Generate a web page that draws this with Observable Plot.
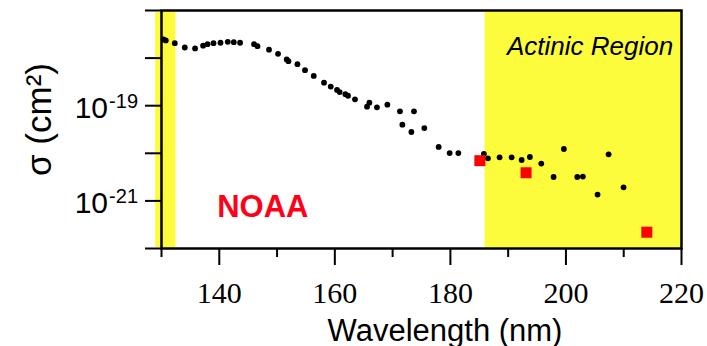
<!DOCTYPE html>
<html>
<head>
<meta charset="utf-8">
<script src="https://cdn.jsdelivr.net/npm/d3@7"></script>
<script src="https://cdn.jsdelivr.net/npm/@observablehq/plot@0.6"></script>
<style>
  html, body { margin: 0; padding: 0; background: #fff; }
  svg { display: block; }
</style>
</head>
<body>
<div id="chart"></div>
<script>
// Measured cross-section (black dots)
const wavelength = [130.35, 130.74, 132.30, 134.03, 135.81, 137.20, 137.96, 139.0, 140.21, 141.47,
  142.51, 143.60, 146.02, 146.61, 148.61, 150.17, 151.67, 151.97, 153.53, 154.84,
  156.35, 158.13, 159.29, 160.38, 160.84, 161.83, 162.28, 163.49, 165.57, 165.98,
  167.29, 169.09, 171.27, 171.69, 173.25, 173.70, 175.49, 177.97, 179.87, 181.38,
  185.80, 186.50, 188.52, 190.60, 192.33, 193.76, 195.73, 197.86, 199.64, 201.96,
  202.93, 205.47, 207.38, 209.97];
const sigma = [2.47e-18, 2.35e-18, 2.06e-18, 1.67e-18, 1.60e-18, 1.82e-18, 1.96e-18, 2.06e-18, 2.10e-18, 2.20e-18,
  2.16e-18, 2.10e-18, 1.96e-18, 1.78e-18, 1.50e-18, 1.23e-18, 9.38e-19, 8.63e-19, 7.46e-19, 5.58e-19,
  4.23e-19, 3.05e-19, 2.52e-19, 2.14e-19, 1.93e-19, 1.75e-19, 1.62e-19, 1.36e-19, 9.53e-20, 1.16e-19,
  9.23e-20, 1.05e-19, 7.60e-20, 4.00e-20, 2.80e-20, 7.60e-20, 3.39e-20, 1.36e-20, 1.01e-20, 1.01e-20,
  9.75e-21, 7.85e-21, 8.24e-21, 8.24e-21, 7.23e-21, 8.36e-21, 6.07e-21, 3.18e-21, 1.23e-20, 3.18e-21,
  3.24e-21, 1.36e-21, 9.53e-21, 1.93e-21];

// NOAA values (red squares)
const noaaWavelength = [185.1, 193.1, 214.0];
const noaaSigma = [7.0e-21, 3.9e-21, 2.2e-22];

// Highlighted wavelength bands (yellow)
const bandStart = [129.0, 186.0];
const bandEnd = [132.5, 220.0];

// Ticks
const xMajorTicks = [140, 160, 180, 200, 220];
const xMinorTicks = [130, 150, 170, 190, 210];
const yTicks = [1e-22, 1e-21, 1e-20, 1e-19, 1e-18, 1e-17];
const yLabelTicks = [1e-21, 1e-19];
const yLabelExponents = ["-21", "-19"];

// Annotations
const noaaLabel = [{x: 139.64, y: 4.55e-22, text: "NOAA"}];
const actinicLabel = [{x: 218.56, y: 1.17e-18, text: "Actinic Region"}];

const dots = wavelength.map((w, i) => ({w, s: sigma[i]}));
const noaa = noaaWavelength.map((w, i) => ({w, s: noaaSigma[i]}));
const bands = bandStart.map((a, i) => ({x1: a, x2: bandEnd[i]}));
const yLabels = yLabelTicks.map((v, i) => ({v, e: yLabelExponents[i]}));

const sans = "Liberation Sans, Arial, sans-serif";
const serif = "Liberation Serif, Times New Roman, serif";

const chart = Plot.plot({
  width: 707,
  height: 346,
  marginLeft: 161,
  marginRight: 26,
  marginTop: 10,
  marginBottom: 98,
  x: {domain: [130, 220]},
  y: {type: "log", domain: [1e-22, 1e-17]},
  marks: [
    Plot.rect(bands, {x1: "x1", x2: "x2", fill: "#fcfc3c", insetTop: 2, insetBottom: 1}),
    Plot.axisX({ticks: xMajorTicks, tickSize: 17, strokeWidth: 2, tickFormat: () => "", label: null}),
    Plot.axisX({ticks: xMinorTicks, tickSize: 9, strokeWidth: 2, tickFormat: () => "", label: null}),
    Plot.axisY({ticks: yTicks, tickSize: 16, strokeWidth: 2, tickFormat: () => "", label: null}),
    Plot.frame({stroke: "#000", strokeWidth: 2.5}),
    Plot.dot(dots, {x: "w", y: "s", r: 2.9, fill: "#000", stroke: null}),
    Plot.dot(noaa, {x: "w", y: "s", symbol: "square", r: 6.2, fill: "#ff0000", stroke: null}),
    // x tick labels (serif)
    Plot.text(xMajorTicks, {x: d => d, text: d => String(d), frameAnchor: "bottom", lineAnchor: "bottom",
      dy: 54, fontSize: 30, fontFamily: serif, fill: "#000"}),
    // y tick labels: 10 with superscript exponent
    Plot.text(yLabels, {y: "v", text: () => "10", frameAnchor: "left", textAnchor: "end", lineAnchor: "bottom",
      dx: -53.5, dy: 12, fontSize: 30, fontFamily: sans, fill: "#000"}),
    Plot.text(yLabels, {y: "v", text: "e", frameAnchor: "left", textAnchor: "end", lineAnchor: "bottom",
      dx: -23.5, dy: 2, fontSize: 20, fontFamily: sans, fill: "#000"}),
    // axis titles
    Plot.text(["Wavelength (nm)"], {text: d => d, frameAnchor: "bottom", textAnchor: "middle", lineAnchor: "bottom",
      dx: 23.5, dy: 92, fontSize: 31, fontFamily: sans, fill: "#000"}),
    Plot.text(["σ (cm²)"], {text: d => d, frameAnchor: "left", textAnchor: "middle", rotate: -90, lineAnchor: "middle",
      dx: -122, dy: -10, fontSize: 35, fontFamily: sans, fill: "#000"}),
    // annotations
    Plot.text(noaaLabel, {x: "x", y: "y", text: "text", textAnchor: "start", lineAnchor: "bottom",
      fontSize: 31, fontWeight: "bold", fontFamily: sans, fill: "#ff0018"}),
    Plot.text(actinicLabel, {x: "x", y: "y", text: "text", textAnchor: "end", lineAnchor: "bottom",
      fontSize: 26, fontStyle: "italic", fontFamily: sans, fill: "#000"})
  ]
});
document.getElementById("chart").appendChild(chart);
</script>
</body>
</html>
